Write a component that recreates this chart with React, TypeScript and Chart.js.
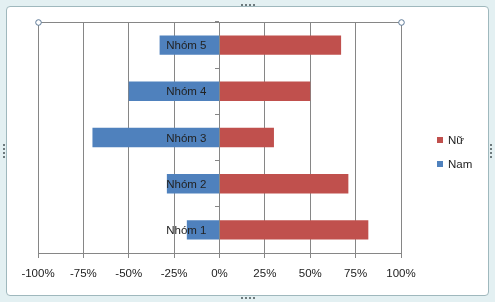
import React, { useEffect, useRef } from "react";
import { Chart, registerables } from "chart.js";

Chart.register(...registerables);

const categories = ["Nhóm 1", "Nhóm 2", "Nhóm 3", "Nhóm 4", "Nhóm 5"];
const nuValues = [82, 71, 30, 50, 67];
const namValues = [-18, -29, -70, -50, -33];
const xTicks = [-100, -75, -50, -25, 0, 25, 50, 75, 100];

const FONT = "'Liberation Sans', Arial, sans-serif";
const RED = "#C0504D";
const BLUE = "#4F81BD";
const GRID = "#868686";
const TEXT = "#222222";

const labelPlugin = {
  id: "catLabels",
  afterDatasetsDraw(chart: any) {
    const ctx = chart.ctx;
    const xs = chart.scales.x;
    const ys = chart.scales.y;
    const x0 = xs.getPixelForValue(0);
    ctx.save();
    ctx.font = `11.5px ${FONT}`;
    ctx.fillStyle = TEXT;
    ctx.textAlign = "right";
    ctx.textBaseline = "middle";
    (chart.data.labels as string[]).forEach((lab, i) => {
      ctx.fillText(lab, x0 - 13, ys.getPixelForValue(i) + 1);
    });
    ctx.restore();
  },
  afterDraw(chart: any) {
    const ctx = chart.ctx;
    const { left, right, top } = chart.chartArea;
    ctx.save();
    ctx.strokeStyle = GRID;
    ctx.lineWidth = 1;
    ctx.beginPath();
    ctx.moveTo(left, Math.round(top) + 0.5);
    ctx.lineTo(right, Math.round(top) + 0.5);
    ctx.stroke();
    [left, right].forEach((x) => {
      ctx.beginPath();
      ctx.arc(Math.round(x) + 0.5, Math.round(top) + 0.5, 2.8, 0, Math.PI * 2);
      ctx.fillStyle = "#ffffff";
      ctx.fill();
      ctx.strokeStyle = "#5b7896";
      ctx.stroke();
    });
    ctx.restore();
  },
};

function Dots({ x, y, vertical }: { x: number; y: number; vertical?: boolean }) {
  const items = [0, 1, 2, 3];
  return (
    <>
      {items.map((i) => (
        <div
          key={i}
          style={{
            position: "absolute",
            left: vertical ? x : x + i * 4,
            top: vertical ? y + i * 4 : y,
            width: 2,
            height: 2,
            background: "#6d7a7d",
          }}
        />
      ))}
    </>
  );
}

export default function App() {
  const ref = useRef<HTMLCanvasElement | null>(null);

  useEffect(() => {
    if (!ref.current) return;
    const chart = new Chart(ref.current, {
      type: "bar",
      data: {
        labels: categories,
        datasets: [
          {
            label: "Nữ",
            data: nuValues,
            backgroundColor: RED,
            borderWidth: 0,
            barPercentage: 0.42,
            categoryPercentage: 1,
          },
          {
            label: "Nam",
            data: namValues,
            backgroundColor: BLUE,
            borderWidth: 0,
            barPercentage: 0.42,
            categoryPercentage: 1,
          },
        ],
      },
      options: {
        indexAxis: "y",
        responsive: false,
        animation: false,
        devicePixelRatio: 1,
        layout: { padding: { left: 38, right: 94, top: 22, bottom: 0 } },
        plugins: {
          legend: { display: false },
          tooltip: { enabled: false },
        },
        scales: {
          x: {
            type: "linear",
            stacked: true,
            min: -100,
            max: 100,
            afterBuildTicks: (s: any) => {
              s.ticks = xTicks.map((v) => ({ value: v }));
            },
            afterFit: (s: any) => {
              s.height = 49;
            },
            grid: {
              color: GRID,
              lineWidth: 1,
              tickLength: 5,
              drawTicks: true,
            },
            border: { display: true, color: GRID },
            ticks: {
              color: TEXT,
              font: { family: FONT, size: 11.5 },
              padding: 9,
              maxRotation: 0,
              autoSkip: false,
              callback: (v: any) => `${v}%`,
            },
          },
          y: {
            type: "category",
            stacked: true,
            reverse: true,
            position: { x: 0 } as any,
            grid: {
              offset: true,
              drawOnChartArea: false,
              color: GRID,
              tickLength: 4,
            },
            border: { display: true, color: GRID },
            ticks: { display: false },
          },
        },
      },
      plugins: [labelPlugin],
    } as any);
    return () => chart.destroy();
  }, []);

  const legendItem = (label: string, color: string, cy: number) => (
    <div
      style={{
        position: "absolute",
        left: 437,
        top: cy - 7,
        height: 14,
        display: "flex",
        alignItems: "center",
        fontFamily: FONT,
        fontSize: 11.5,
        color: TEXT,
        whiteSpace: "nowrap",
      }}
    >
      <span style={{ display: "inline-block", width: 6, height: 6, background: color, marginRight: 5 }} />
      <span>{label}</span>
    </div>
  );

  return (
    <div
      style={{
        position: "fixed",
        left: 0,
        top: 0,
        width: 495,
        height: 302,
        background: "#e3f0f2",
        overflow: "hidden",
      }}
    >
      <div
        style={{
          position: "absolute",
          left: 6,
          top: 6,
          width: 481,
          height: 288,
          border: "1px solid #9fb8bd",
          borderRadius: 4,
          background: "#ffffff",
        }}
      />
      <Dots x={241} y={4} />
      <Dots x={241} y={297} />
      <Dots x={3} y={144} vertical />
      <Dots x={490} y={144} vertical />
      <canvas
        ref={ref}
        width={495}
        height={302}
        style={{ position: "absolute", left: 0, top: 0, width: 495, height: 302 }}
      />
      {legendItem("Nữ", RED, 140)}
      {legendItem("Nam", BLUE, 163.5)}
    </div>
  );
}
